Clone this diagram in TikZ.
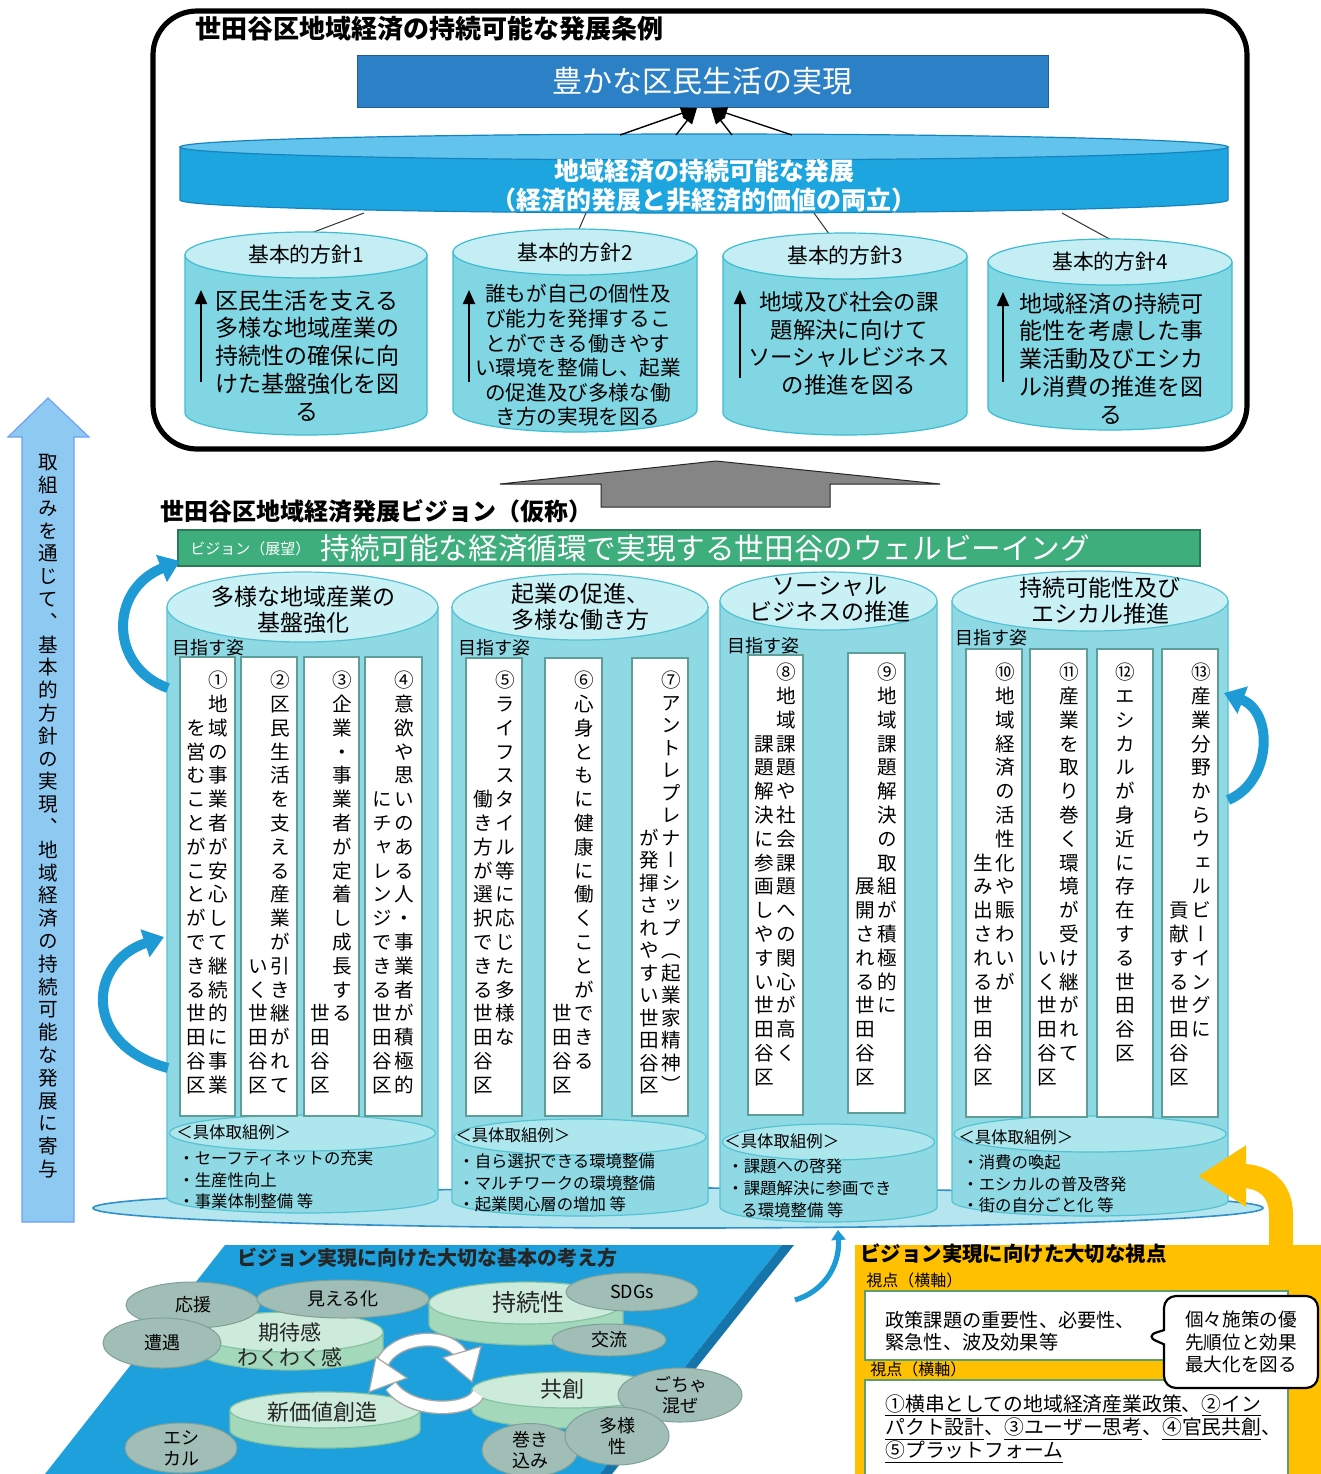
\documentclass[tikz,border=0pt]{standalone}
\usepackage{fontspec}
\setmainfont{Noto Sans CJK JP}
\newfontfamily\vfont[RawFeature=+vert]{Noto Sans CJK JP}
\usetikzlibrary{arrows.meta,shapes.geometric,shapes.callouts}
\definecolor{topblue}{HTML}{2B80C6}
\definecolor{diskbody}{HTML}{1DA5E0}
\definecolor{disktop}{HTML}{62C4EC}
\definecolor{diskline}{HTML}{1783BE}
\definecolor{cbody}{HTML}{80D6E2}
\definecolor{ctop}{HTML}{C4EEF3}
\definecolor{cline}{HTML}{3FBCD0}
\definecolor{colbody}{HTML}{8ED9E4}
\definecolor{coltop}{HTML}{C9F0F5}
\definecolor{colline}{HTML}{55C2D2}
\definecolor{boxline}{HTML}{5F9E98}
\definecolor{visgreen}{HTML}{3DAE7C}
\definecolor{arrowblue}{HTML}{1E9AD5}
\definecolor{leftblue}{HTML}{8DC9F1}
\definecolor{plateblue}{HTML}{1DA0DB}
\definecolor{platedark}{HTML}{1575AA}
\definecolor{gtop}{HTML}{CDEBDA}
\definecolor{gside}{HTML}{A3D8BB}
\definecolor{gline}{HTML}{86C3A2}
\definecolor{grayell}{HTML}{A0BDB6}
\definecolor{grayline}{HTML}{7FA098}
\definecolor{gold}{HTML}{FFC000}
\definecolor{bigdisk}{HTML}{B5E6F0}
\definecolor{bigdiskline}{HTML}{3090C8}
\definecolor{wboxline}{HTML}{5E9E6E}
\newdimen\vstep \vstep=11.9pt
\ExplSyntaxOn
\NewDocumentCommand\VT{m}{\vbox{\offinterlineskip\tl_map_inline:nn{#1}{\hbox_to_wd:nn{1em}{\hss\vrule~height~.88em~depth~.12em~width~0pt\relax##1\hss}\vskip\dimexpr\vstep-1em\relax}}}
\ExplSyntaxOff
\newcommand\VB[3][18]{\hbox{\vbox to #1\vstep{\vss\VT{#3}}\kern1.4pt\vbox to #1\vstep{\VT{#2}\vss}}}
% cx, top y, bottom y, rx, ry top, ry bottom, body, top, line
\newcommand\mycyl[9]{%
 \filldraw[fill=#7,draw=#9,line width=0.6pt] ({#1-#4},#2) -- ({#1-#4},#3) arc[start angle=180,end angle=0,x radius=#4,y radius=#6] -- ({#1+#4},#2) -- cycle;
 \filldraw[fill=#8,draw=#9,line width=0.6pt] (#1,#2) ellipse[x radius=#4,y radius=#5];}
% x1,y1,x2,y2,name,texttop,content
\newcommand\colbox[7]{%
 \draw[wbox] (#1,#2) rectangle (#3,#4);
 \node[vt] (#5) at ({(#1+#3)/2},#6) {#7};}
\tikzset{
 vt/.style={anchor=north,inner sep=0pt,font=\vfont\fontsize{9.8}{12}\selectfont},
 wbox/.style={draw=boxline,fill=white,line width=0.7pt},
 conv/.style={line width=0.7pt,-{Triangle[width=6pt,length=8pt]}},
 upar/.style={line width=0.9pt,-{Triangle[width=6pt,length=7pt]}},
 thin/.style={line width=0.5pt,draw=black!80},
 ptitle/.style={inner sep=0pt,font=\fontsize{10.4}{12}\selectfont},
 ctitle/.style={inner sep=0pt,align=center,font=\fontsize{11.5}{13}\selectfont},
 goal/.style={inner sep=0pt,anchor=west,font=\fontsize{9}{11}\selectfont},
 ex/.style={inner sep=0pt,anchor=west,font=\fontsize{8.2}{10}\selectfont},
 curv/.style={line width=5pt,draw=arrowblue,-{Triangle[width=14pt,length=10pt]}},
 gell/.style={ellipse,draw=grayline,fill=grayell,inner sep=0pt,align=center,font=\fontsize{9}{10.5}\selectfont,line width=0.5pt},
 gtext/.style={inner sep=0pt,align=center,text=black!85},
 cyc/.style={line width=7pt,draw=gray!70,line cap=butt},
 cycw/.style={line width=5.6pt,draw=white,line cap=butt},
}
\begin{document}
\begin{tikzpicture}[x=0.5pt,y=-0.5pt]
\useasboundingbox (0,0) rectangle (1321,1474);
\fill[white] (0,0) rectangle (1321,1474);

% ---------- left big arrow
\filldraw[fill=leftblue,draw=leftblue!80!blue,line width=0.6pt] (22,1222) -- (22,437) -- (8,437) -- (48,398) -- (89,437) -- (74,437) -- (74,1222) -- cycle;
\node[vt] (lefttext) at (48,452) {\vstep=11.4pt\VT{取組みを通じて、基本的方針の実現、地域経済の持続可能な発展に寄与}};

% ---------- top frame
\draw[line width=2.6pt,rounded corners=22pt] (153,11) rectangle (1247,449);
\node[anchor=west,inner sep=0pt,font=\bfseries\fontsize{13}{15}\selectfont] (ordtitle) at (195,29) {世田谷区地域経済の持続可能な発展条例};
\node[draw=topblue!75!black,fill=topblue,minimum width=345.5pt,minimum height=26pt,inner sep=0pt,text=white,font=\fontsize{15}{18}\selectfont] (goal) at (702.5,81) {豊かな区民生活の実現};

% lines from disk to cylinders (behind)
\coordinate (d1) at (364,213); \coordinate (q1) at (298,238);
\coordinate (d2) at (586,213); \coordinate (q2) at (576,236);
\coordinate (d3) at (814,213); \coordinate (q3) at (832,238);
\coordinate (d4) at (1062,213); \coordinate (q4) at (1115,242);
\draw[thin] (d1) -- (q1); \draw[thin] (d2) -- (q2); \draw[thin] (d3) -- (q3); \draw[thin] (d4) -- (q4);

\mycyl{704}{147}{200}{524}{13}{13}{diskbody}{disktop}{diskline}
\node[align=center,inner sep=0pt,text=white,font=\bfseries\fontsize{12.5}{14.5}\selectfont] (dev) at (704,186) {地域経済の持続可能な発展\\（経済的発展と非経済的価値の両立）};

\coordinate (c1) at (620,135); \coordinate (c2) at (676,135);
\coordinate (c3) at (732,135); \coordinate (c4) at (792,135);
\coordinate (g1) at (697,108); \coordinate (g2) at (711,108);
\draw[conv] (c1) -- (g1); \draw[conv] (c2) -- (g1);
\draw[conv] (c3) -- (g2); \draw[conv] (c4) -- (g2);

% four policy cylinders
\mycyl{306}{255}{413}{121}{23}{22}{cbody}{ctop}{cline}
\mycyl{575}{252}{410}{122}{23}{22}{cbody}{ctop}{cline}
\mycyl{845}{256}{413}{122}{23}{22}{cbody}{ctop}{cline}
\mycyl{1110}{262}{408}{122}{23}{22}{cbody}{ctop}{cline}
\node[ptitle] (p1t) at (306,255) {基本的方針1};
\node[ptitle] (p2t) at (575,253) {基本的方針2};
\node[ptitle] (p3t) at (845,256) {基本的方針3};
\node[ptitle] (p4t) at (1110,262) {基本的方針4};
\node[inner sep=0pt,align=center,font=\fontsize{11.5}{13.9}\selectfont] (p1b) at (307,355.5) {区民生活を支える\\多様な地域産業の\\持続性の確保に向\\けた基盤強化を図\\る};
\node[inner sep=0pt,align=center,font=\fontsize{10.3}{12.3}\selectfont] (p2b) at (578,355.5) {誰もが自己の個性及\\び能力を発揮するこ\\とができる働きやす\\い環境を整備し、起業\\の促進及び多様な働\\き方の実現を図る};
\node[inner sep=0pt,align=center,font=\fontsize{11.2}{13.85}\selectfont] (p3b) at (849,343.5) {地域及び社会の課\\題解決に向けて\\ソーシャルビジネス\\の推進を図る};
\node[inner sep=0pt,align=center,font=\fontsize{11.5}{13.9}\selectfont] (p4b) at (1111,358.5) {地域経済の持続可\\能性を考慮した事\\業活動及びエシカ\\ル消費の推進を図\\る};
\coordinate (u1a) at (201,382); \coordinate (u1b) at (201,290);
\coordinate (u2a) at (469,382); \coordinate (u2b) at (469,290);
\coordinate (u3a) at (740,378); \coordinate (u3b) at (740,290);
\coordinate (u4a) at (1003,382); \coordinate (u4b) at (1003,292);
\draw[upar] (u1a) -- (u1b); \draw[upar] (u2a) -- (u2b);
\draw[upar] (u3a) -- (u3b); \draw[upar] (u4a) -- (u4b);

% ---------- gray arrow
\filldraw[fill=black!48,draw=black!85,line width=0.5pt] (500,484) -- (716,461) -- (940,484) -- (830,484) -- (830,507) -- (601,507) -- (601,484) -- cycle;

% ---------- vision
\node[anchor=west,inner sep=0pt,font=\bfseries\fontsize{12}{14}\selectfont] (vtitle) at (160,511) {世田谷区地域経済発展ビジョン（仮称）};
\node[fill=visgreen,draw=visgreen!70!black,line width=0.6pt,minimum width=511pt,minimum height=18pt,inner sep=0pt] (bar) at (689,548) {};
\node[anchor=west,inner sep=0pt,text=white,font=\fontsize{7.5}{9}\selectfont] (barlab) at (190,549) {ビジョン（展望）};
\node[anchor=west,inner sep=0pt,text=white,font=\fontsize{14.8}{17}\selectfont] (bartext) at (320,548) {持続可能な経済循環で実現する世田谷のウェルビーイング};

% ---------- big base disk
\filldraw[fill=bigdisk,draw=bigdiskline,line width=0.8pt] (678,1208) ellipse[x radius=585,y radius=20];

% ---------- four column cylinders
\mycyl{302.5}{607}{1198}{135.5}{35}{15}{colbody}{coltop}{colline}
\mycyl{580}{607}{1201}{128}{33}{15}{colbody}{coltop}{colline}
\mycyl{828.5}{601}{1207}{108.5}{29}{15}{colbody}{coltop}{colline}
\mycyl{1090}{601}{1201}{138}{30}{15}{colbody}{coltop}{colline}
\filldraw[fill=coltop!55!colbody,draw=colline,line width=0.6pt] (302.5,1133) ellipse[x radius=133,y radius=18];
\filldraw[fill=coltop!55!colbody,draw=colline,line width=0.6pt] (580,1137) ellipse[x radius=126,y radius=18];
\filldraw[fill=coltop!55!colbody,draw=colline,line width=0.6pt] (828.5,1142) ellipse[x radius=106,y radius=18];
\filldraw[fill=coltop!55!colbody,draw=colline,line width=0.6pt] (1090,1134) ellipse[x radius=136,y radius=18];

\node[ctitle] (ta) at (303,610) {多様な地域産業の\\基盤強化};
\node[ctitle] (tb) at (580,606.5) {起業の促進、\\多様な働き方};
\node[ctitle] (tc) at (830,599.5) {ソーシャル\\ビジネスの推進};
\node[ctitle] (td) at (1100,601) {持続可能性及び\\エシカル推進};

\node[goal] (ma) at (172,648) {目指す姿};
\node[goal] (mb) at (458,648) {目指す姿};
\node[goal] (mc) at (727,646) {目指す姿};
\node[goal] (md) at (955,638) {目指す姿};

% boxes
\colbox{180}{657}{235}{1116}{v1}{670}{\VB{①地域の事業者が安心して継続的に事業}{を営むことがことができる世田谷区}}
\colbox{241}{657}{297}{1116}{v2}{670}{\VB{②区民生活を支える産業が引き継がれて}{いく世田谷区}}
\colbox{304}{657}{359}{1116}{v3}{670}{\VB{③企業・事業者が定着し成長する}{世田谷区}}
\colbox{365}{657}{422}{1116}{v4}{670}{\VB{④意欲や思いのある人・事業者が積極的}{にチャレンジできる世田谷区}}
\colbox{466}{658}{522}{1116}{v5}{670}{\VB{⑤ライフスタイル等に応じた多様な}{働き方が選択できる世田谷区}}
\colbox{545}{658}{602}{1116}{v6}{670}{\VB{⑥心身ともに健康に働くことができる}{世田谷区}}
\colbox{632}{658}{688}{1116}{v7}{670}{\vstep=11.25pt\VB[19]{⑦アントレプレナーシップ（起業家精神）}{が発揮されやすい世田谷区}}
\colbox{748}{655}{803}{1115}{v8}{662}{\VB{⑧地域課題や社会課題への関心が高く}{課題解決に参画しやすい世田谷区}}
\colbox{848}{653}{905}{1113}{v9}{662}{\VB{⑨地域課題解決の取組が積極的に}{展開される世田谷区}}
\colbox{966}{649}{1022}{1117}{v10}{662}{\VB{⑩地域経済の活性化や賑わいが}{生み出される世田谷区}}
\colbox{1030}{649}{1087}{1117}{v11}{662}{\VB{⑪産業を取り巻く環境が受け継がれて}{いく世田谷区}}
\colbox{1097}{649}{1153}{1117}{v12}{662}{\VT{⑫エシカルが身近に存在する世田谷区}}
\colbox{1162}{649}{1218}{1117}{v13}{662}{\VB{⑬産業分野からウェルビーイングに}{貢献する世田谷区}}

% examples
\node[ex] (ea0) at (176,1132) {＜具体取組例＞};
\node[ex] (ea1) at (178,1158) {・セーフティネットの充実};
\node[ex] (ea2) at (178,1180) {・生産性向上};
\node[ex] (ea3) at (178,1201) {・事業体制整備 等};
\node[ex] (eb0) at (455,1135) {＜具体取組例＞};
\node[ex] (eb1) at (458,1161) {・自ら選択できる環境整備};
\node[ex] (eb2) at (458,1183) {・マルチワークの環境整備};
\node[ex] (eb3) at (458,1204) {・起業関心層の増加 等};
\node[ex] (ec0) at (724,1141) {＜具体取組例＞};
\node[ex] (ec1) at (727,1166) {・課題への啓発};
\node[ex] (ec2) at (727,1188) {・課題解決に参画でき};
\node[ex] (ec3) at (741,1210) {る環境整備 等};
\node[ex] (ed0) at (958,1137) {＜具体取組例＞};
\node[ex] (ed1) at (962,1162) {・消費の喚起};
\node[ex] (ed2) at (962,1184) {・エシカルの普及啓発};
\node[ex] (ed3) at (962,1205) {・街の自分ごと化 等};

% curved blue arrows
\coordinate (b1s) at (168,688); \coordinate (b1e) at (180,561);
\coordinate (b2s) at (168,1068); \coordinate (b2e) at (164,937);
\coordinate (b3s) at (1228,800); \coordinate (b3e) at (1224,693);
\draw[curv] (b1s) .. controls (110,668) and (108,590) .. (b1e);
\draw[curv] (b2s) .. controls (82,1045) and (88,962) .. (b2e);
\draw[curv] (b3s) .. controls (1272,782) and (1274,712) .. (b3e);

% ---------- plate
\fill[plateblue] (225,1245) -- (782,1245) -- (600,1474) -- (45,1474) -- cycle;
\fill[platedark] (782,1245) -- (794,1245) -- (612,1474) -- (600,1474) -- cycle;
\coordinate (pl1) at (795,1300); \coordinate (pl2) at (838,1230);
\draw[line width=2.6pt,draw=arrowblue,-{Triangle[width=7pt,length=5pt]}] (pl1) .. controls (822,1292) and (840,1268) .. (pl2);
\node[anchor=west,inner sep=0pt,text=black!85,font=\bfseries\fontsize{10}{12}\selectfont] (platetitle) at (237,1258) {ビジョン実現に向けた大切な基本の考え方};

\mycyl{526}{1303}{1324}{97}{21}{21}{gside}{gtop}{gline}
\mycyl{290}{1332}{1350}{93}{20}{20}{gside}{gtop}{gline}
\mycyl{569}{1390}{1410}{97}{18}{18}{gside}{gtop}{gline}
\mycyl{325}{1410}{1430}{95}{18}{18}{gside}{gtop}{gline}
\node[gtext,font=\fontsize{12}{14}\selectfont] (k1) at (528,1302) {持続性};
\node[gtext,font=\fontsize{10.5}{12.8}\selectfont] (k2) at (290,1345) {期待感\\わくわく感};
\node[gtext,font=\fontsize{11}{13}\selectfont] (k3) at (562,1389) {共創};
\node[gtext,font=\fontsize{11}{13}\selectfont] (k4) at (322,1412) {新価値創造};

\node[gell,minimum width=67pt,minimum height=23pt] (e1) at (193,1305) {応援};
\node[gell,minimum width=86pt,minimum height=19pt] (e2) at (343,1299) {見える化};
\node[gell,minimum width=66pt,minimum height=19pt] (e3) at (632,1292) {SDGs};
\node[gell,minimum width=57pt,minimum height=16pt] (e4) at (609,1340) {交流};
\node[gell,minimum width=59pt,minimum height=25pt] (e5) at (162,1343) {遭遇};
\node[gell,minimum width=62pt,minimum height=27pt] (e6) at (680,1395) {ごちゃ\\混ぜ};
\node[gell,minimum width=48pt,minimum height=26pt] (e8) at (530,1450) {巻き\\込み};
\node[gell,minimum width=52pt,minimum height=29pt] (e7) at (617,1436) {多様\\性};
\node[gell,minimum width=56pt,minimum height=25pt] (e9) at (181,1448) {エシ\\カル};

% cycle arrows
\coordinate (ca1) at (382,1364); \coordinate (ca2) at (461,1354);
\coordinate (cb1) at (478,1394); \coordinate (cb2) at (391,1386);
\draw[cyc] (ca1) .. controls (392,1338) and (445,1330) .. (ca2);
\draw[cycw] (ca1) .. controls (392,1338) and (445,1330) .. (ca2);
\filldraw[fill=white,draw=gray!70,line width=0.6pt] (443,1357.5) -- (481,1346.5) -- (472,1382) -- cycle;
\draw[cyc] (cb1) .. controls (470,1412) and (410,1414) .. (cb2);
\draw[cycw] (cb1) .. controls (470,1412) and (410,1414) .. (cb2);
\filldraw[fill=white,draw=gray!70,line width=0.6pt] (407,1378) -- (369,1392) -- (376,1357) -- cycle;

% ---------- yellow box
\fill[gold] (855,1245) rectangle (1321,1474);
\node[anchor=west,inner sep=0pt,font=\bfseries\fontsize{10.2}{12}\selectfont] (ytitle) at (860,1254) {ビジョン実現に向けた大切な視点};
\node[anchor=west,inner sep=0pt,font=\fontsize{8}{10}\selectfont] (vp1) at (866,1280) {視点（横軸）};
\draw[fill=white,draw=wboxline,line width=0.8pt] (865,1291) rectangle (1288,1360);
\node[anchor=west,inner sep=0pt,align=left,font=\fontsize{9.6}{11}\selectfont] (vp1t) at (885,1331) {政策課題の重要性、必要性、\\緊急性、波及効果等};
\node[anchor=west,inner sep=0pt,font=\fontsize{8}{10}\selectfont] (vp2) at (870,1369) {視点（横軸）};
\draw[fill=white,draw=wboxline,line width=0.8pt] (865,1380) rectangle (1288,1480);
\node[anchor=west,inner sep=0pt,align=left,font=\fontsize{9.9}{11.7}\selectfont] (vp2t) at (885,1429) {\underline{①横串としての地域経済産業政策}、\underline{②イン}\\\underline{パクト設計}、\underline{③ユーザー思考}、\underline{④官民共創}、\\\underline{⑤プラットフォーム}};
\node[rectangle callout,draw=black,fill=white,line width=1.1pt,rounded corners=6pt,callout absolute pointer={(1145,1336)},minimum width=77pt,minimum height=46pt,inner sep=0pt,align=center,font=\fontsize{9.3}{11.2}\selectfont] (callout) at (1241,1342) {個々施策の優\\先順位と効果\\最大化を図る};

\coordinate (ya) at (1281,1250); \coordinate (yb) at (1198,1176);
\draw[line width=12pt,draw=gold,-{Triangle[width=29pt,length=24pt]}] (ya) -- (1281,1215) .. controls (1281,1182) and (1255,1176) .. (yb);
\end{tikzpicture}
\end{document}
